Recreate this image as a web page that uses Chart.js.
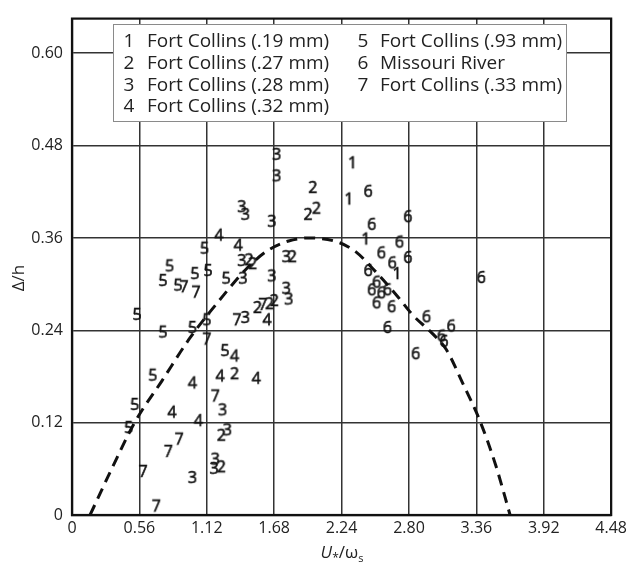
<!DOCTYPE html>
<html>
<head>
<meta charset="utf-8">
<script src="https://cdn.jsdelivr.net/npm/chart.js@4.4.1/dist/chart.umd.min.js"></script>
<style>
  html, body { margin: 0; padding: 0; background: #fff; }
  #wrap { width: 631px; height: 564px; position: relative; }
</style>
</head>
<body>
<div id="wrap"><canvas id="c" width="631" height="564"></canvas></div>
<script>
// ---- data ----
const xTicks = [0, 0.56, 1.12, 1.68, 2.24, 2.80, 3.36, 3.92, 4.48];
const xTickLabels = ["0", "0.56", "1.12", "1.68", "2.24", "2.80", "3.36", "3.92", "4.48"];
const yTicks = [0, 0.12, 0.24, 0.36, 0.48, 0.60];
const yTickLabels = ["0", "0.12", "0.24", "0.36", "0.48", "0.60"];

const seriesNames = [
  "Fort Collins (.19 mm)", "Fort Collins (.27 mm)", "Fort Collins (.28 mm)",
  "Fort Collins (.32 mm)", "Fort Collins (.93 mm)", "Missouri River", "Fort Collins (.33 mm)"
];
const seriesSymbols = ["1", "2", "3", "4", "5", "6", "7"];

const series1 = [[2.33,0.457],[2.30,0.41],[2.44,0.358],[2.70,0.313]];
const series2 = [[2.00,0.425],[1.96,0.39],[2.03,0.398],[1.83,0.335],[1.47,0.331],[1.50,0.326],
  [1.54,0.269],[1.64,0.274],[1.68,0.278],[1.35,0.183],[1.24,0.103],[1.24,0.062]];
const series3 = [[1.70,0.468],[1.70,0.44],[1.41,0.40],[1.44,0.39],[1.66,0.381],[1.41,0.33],
  [1.78,0.335],[1.42,0.307],[1.66,0.31],[1.78,0.294],[1.80,0.28],[1.44,0.256],[1.25,0.136],
  [1.29,0.11],[1.19,0.072],[1.18,0.06],[1.00,0.048]];
const series4 = [[1.22,0.363],[1.38,0.35],[1.62,0.253],[1.35,0.206],[1.00,0.171],[1.23,0.18],
  [1.53,0.177],[0.83,0.133],[1.05,0.122]];
const series5 = [[1.10,0.346],[0.81,0.323],[1.13,0.317],[1.02,0.313],[0.755,0.304],[0.88,0.298],
  [1.28,0.307],[0.54,0.26],[0.755,0.237],[1.00,0.243],[1.12,0.253],[1.27,0.213],[0.67,0.181],
  [0.52,0.143],[0.47,0.113]];
const series6 = [[2.46,0.42],[2.49,0.377],[2.79,0.387],[2.72,0.354],[2.57,0.34],[2.79,0.334],
  [2.66,0.327],[2.46,0.317],[2.53,0.302],[2.49,0.292],[2.57,0.288],[2.62,0.292],[2.53,0.275],
  [2.655,0.27],[2.62,0.243],[3.40,0.308],[2.945,0.257],[3.15,0.245],[3.07,0.232],[3.09,0.225],
  [2.855,0.209]];
const series7 = [[1.03,0.289],[0.93,0.296],[1.37,0.253],[1.12,0.228],[1.19,0.154],[0.89,0.098],
  [0.80,0.082],[0.59,0.056],[0.70,0.011],[1.585,0.273]];

const curveX = [0.15, 0.33, 0.52, 0.75, 0.98, 1.23, 1.45, 1.62, 1.80, 1.97, 2.20, 2.35, 2.50, 2.70, 2.83, 3.00, 3.11, 3.25, 3.385, 3.52, 3.64];
const curveY = [0.0, 0.06, 0.12, 0.175, 0.23, 0.28, 0.32, 0.343, 0.356, 0.36, 0.355, 0.343, 0.32, 0.285, 0.26, 0.235, 0.215, 0.17, 0.124, 0.065, 0.0];

// ---- rendering ----
const FONT = "'Open Sans', Lato, sans-serif";
const INK = "#111";

function glyph(ch) {
  const cv = document.createElement("canvas");
  cv.width = 18; cv.height = 22;
  const g = cv.getContext("2d");
  g.font = "16px " + FONT;
  g.fillStyle = INK;
  g.strokeStyle = INK;
  g.lineWidth = 0.6;
  g.textAlign = "center";
  g.textBaseline = "middle";
  g.fillText(ch, 9, 11);
  g.strokeText(ch, 9, 11);
  return cv;
}

const allSeries = [series1, series2, series3, series4, series5, series6, series7];
const datasets = allSeries.map((s, i) => ({
  label: seriesNames[i],
  data: s.map(p => ({ x: p[0], y: p[1] })),
  showLine: false,
  pointStyle: glyph(seriesSymbols[i]),
  pointRadius: 9,
  pointHoverRadius: 9,
  borderWidth: 0
}));
datasets.push({
  label: "curve",
  data: curveX.map((x, i) => ({ x: x, y: curveY[i] })),
  showLine: true,
  borderColor: "#111",
  borderWidth: 3,
  borderDash: [11, 7],
  pointRadius: 0,
  cubicInterpolationMode: "monotone",
  fill: false
});

const decor = {
  id: "decor",
  beforeDatasetsDraw(chart) {
    const { ctx, chartArea: a } = chart;
    ctx.save();
    ctx.strokeStyle = "#111";
    ctx.lineWidth = 2.2;
    ctx.strokeRect(a.left, a.top, a.right - a.left, a.bottom - a.top);
    ctx.restore();
  },
  afterDraw(chart) {
    const { ctx } = chart;
    ctx.save();
    // legend box
    const bx = 113, by = 24, bw = 453, bh = 97;
    ctx.fillStyle = "#fff";
    ctx.fillRect(bx, by, bw, bh);
    ctx.strokeStyle = "#8a8a8a";
    ctx.lineWidth = 1;
    ctx.strokeRect(bx + 0.5, by + 0.5, bw, bh);
    ctx.fillStyle = "#222";
    ctx.font = "17px " + FONT;
    const w0 = ctx.measureText(seriesNames[0]).width;
    const fs = Math.max(14, Math.min(19, 17 * 183 / w0));
    ctx.font = fs.toFixed(1) + "px " + FONT;
    ctx.textBaseline = "middle";
    const rows = [42, 64, 86, 107];
    for (let i = 0; i < 7; i++) {
      const col = i < 4 ? 0 : 1;
      const r = i < 4 ? i : i - 4;
      const nx = col === 0 ? 129 : 363;
      const tx = col === 0 ? 147 : 380;
      ctx.textAlign = "center";
      ctx.fillText(seriesSymbols[i], nx, rows[r]);
      ctx.textAlign = "left";
      ctx.fillText(seriesNames[i], tx, rows[r]);
    }
    // x axis title: U*/ωs
    ctx.fillStyle = "#222";
    ctx.textAlign = "left";
    ctx.textBaseline = "alphabetic";
    const parts = [
      { t: "U", f: "italic 17px " + FONT, dy: 0 },
      { t: "*", f: "12px " + FONT, dy: 4 },
      { t: "/ω", f: "17px " + FONT, dy: 0 },
      { t: "s", f: "11px " + FONT, dy: 4 }
    ];
    let w = 0;
    parts.forEach(p => { ctx.font = p.f; w += ctx.measureText(p.t).width; });
    let x = 342 - w / 2;
    parts.forEach(p => { ctx.font = p.f; ctx.fillText(p.t, x, 558 + p.dy); x += ctx.measureText(p.t).width; });
    // y axis title
    ctx.translate(19, 278);
    ctx.rotate(-Math.PI / 2);
    ctx.textAlign = "center";
    ctx.textBaseline = "middle";
    ctx.font = "17px " + FONT;
    ctx.fillText("Δ/h", 0, 0);
    ctx.restore();
  }
};

new Chart(document.getElementById("c"), {
  type: "scatter",
  data: { datasets },
  options: {
    responsive: false,
    animation: false,
    devicePixelRatio: 1,
    layout: { padding: { top: 7, right: 19, left: 0, bottom: 0 } },
    plugins: { legend: { display: false }, tooltip: { enabled: false } },
    scales: {
      x: {
        type: "linear", min: 0, max: 4.48,
        afterBuildTicks: s => { s.ticks = xTicks.map(v => ({ value: v })); },
        afterFit: s => { s.height = 49; },
        ticks: {
          autoSkip: false, maxRotation: 0, padding: 4, color: "#222",
          font: { family: FONT, size: 16 },
          callback: (v, i) => xTickLabels[i]
        },
        grid: { color: "#333", lineWidth: 1.5, drawTicks: false },
        border: { color: "#111", width: 2.2 }
      },
      y: {
        type: "linear", min: 0, max: 0.645,
        afterBuildTicks: s => { s.ticks = yTicks.map(v => ({ value: v })); },
        afterFit: s => { s.width = 72; },
        ticks: {
          autoSkip: false, padding: 9, color: "#222",
          font: { family: FONT, size: 16 },
          callback: (v, i) => yTickLabels[i]
        },
        grid: { color: "#333", lineWidth: 1.5, drawTicks: false },
        border: { color: "#111", width: 2.2 }
      }
    }
  },
  plugins: [decor]
});
</script>
</body>
</html>
